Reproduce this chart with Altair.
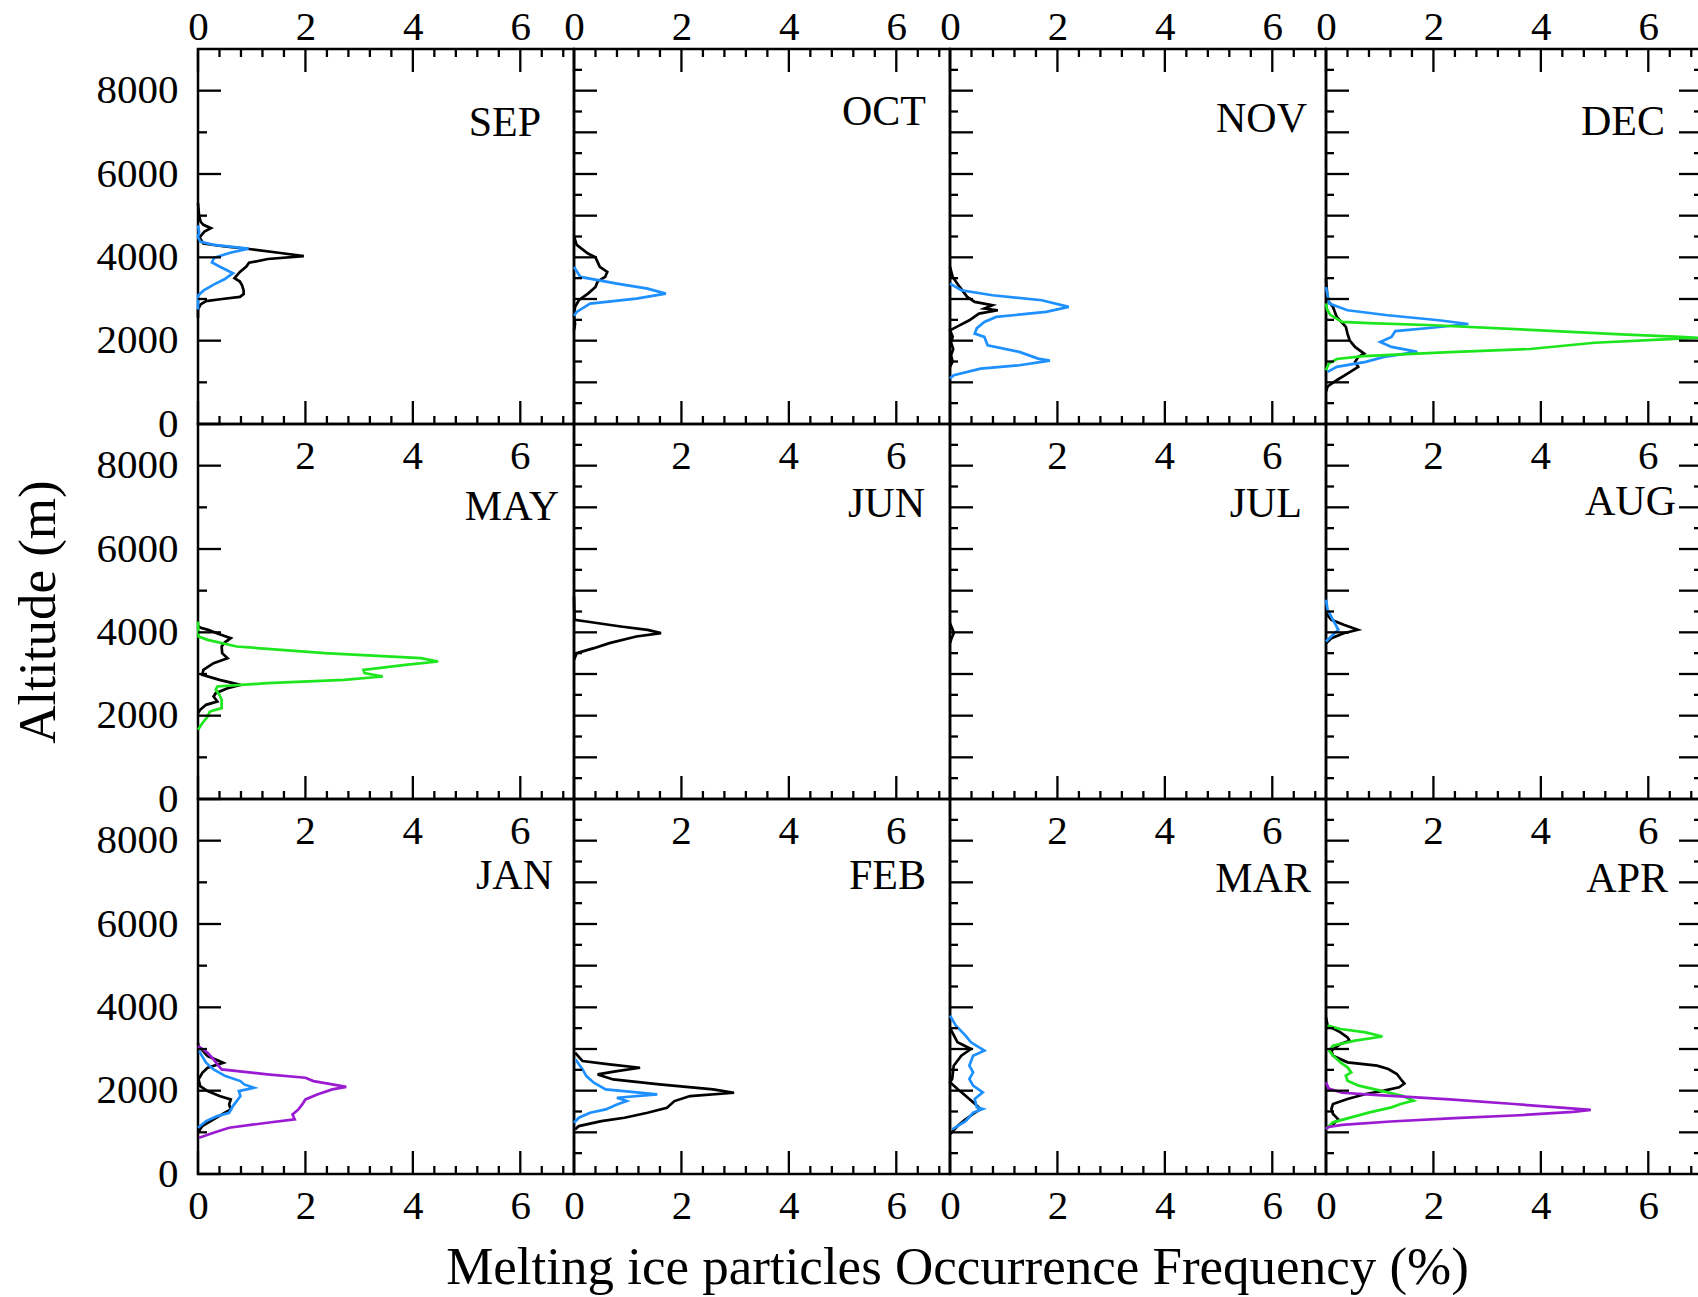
import altair as alt
import pandas as pd

FONT = "Liberation Serif"

# ---------------- data (frequency %, altitude m) ----------------
SEP_BLACK = [(0.0, 5300), (0.02, 5000), (0.05, 4850), (0.1, 4780), (0.24, 4700), (0.12, 4620),
             (0.03, 4480), (0.1, 4330), (0.5, 4260), (0.95, 4200), (1.5, 4110), (1.97, 4030),
             (1.3, 3960), (0.95, 3870), (0.9, 3780), (0.78, 3650), (0.72, 3560), (0.68, 3500),
             (0.78, 3420), (0.82, 3330), (0.85, 3200), (0.85, 3120), (0.78, 3050), (0.45, 3000),
             (0.15, 2950), (0.05, 2870), (0.0, 2750), (0.0, 2550)]
SEP_BLUE = [(0.0, 4770), (0.02, 4600), (0.0, 4480), (0.05, 4370), (0.3, 4300), (0.94, 4210),
            (0.6, 4110), (0.3, 3990), (0.26, 3880), (0.4, 3780), (0.65, 3620), (0.5, 3480),
            (0.3, 3350), (0.1, 3200), (0.0, 3080), (0.0, 2750)]

OCT_BLACK = [(0.0, 4500), (0.05, 4300), (0.26, 4090), (0.4, 4000), (0.48, 3770), (0.62, 3650),
             (0.58, 3530), (0.44, 3420), (0.4, 3290), (0.26, 3130), (0.09, 2970), (0.02, 2810),
             (0.0, 2600), (0.02, 2400), (0.0, 2250)]
OCT_BLUE = [(0.0, 3770), (0.12, 3530), (0.8, 3370), (1.37, 3250), (1.71, 3130), (1.16, 3010),
            (0.3, 2890), (0.05, 2690), (0.0, 2600)]

NOV_BLACK = [(0.0, 3770), (0.05, 3530), (0.18, 3290), (0.32, 3050), (0.46, 2930), (0.79, 2850),
             (0.64, 2770), (0.89, 2730), (0.54, 2650), (0.36, 2490), (0.15, 2350), (0.0, 2250),
             (0.05, 2100), (0.02, 1950), (0.06, 1800), (0.02, 1650), (0.05, 1500), (0.0, 1370)]
NOV_BLUE = [(0.0, 3370), (0.21, 3210), (0.79, 3090), (1.71, 2970), (2.21, 2810), (1.79, 2690),
            (0.86, 2570), (0.64, 2450), (0.5, 2300), (0.46, 2170), (0.64, 2090), (0.7, 1890),
            (1.29, 1730), (1.64, 1570), (1.86, 1520), (1.29, 1410), (0.57, 1330), (0.07, 1170),
            (0.0, 1090)]

DEC_BLACK = [(0.0, 3490), (0.03, 2970), (0.13, 2810), (0.2, 2570), (0.37, 2330), (0.4, 2170),
             (0.44, 2010), (0.54, 1850), (0.71, 1690), (0.6, 1610), (0.54, 1490), (0.6, 1370),
             (0.4, 1210), (0.2, 1050), (0.03, 900), (0.0, 775)]
DEC_BLUE = [(0.0, 3290), (0.06, 2890), (0.4, 2730), (1.15, 2610), (2.1, 2490), (2.65, 2400),
            (1.97, 2310), (1.29, 2230), (1.22, 2090), (1.01, 1970), (1.22, 1850), (1.7, 1730),
            (1.08, 1610), (0.74, 1490), (0.2, 1370), (0.03, 1250)]
DEC_GREEN = [(0.0, 2890), (0.02, 2750), (0.08, 2620), (0.3, 2450), (0.8, 2420), (2.0, 2370),
             (3.8, 2260), (5.5, 2150), (6.6, 2090), (6.93, 2070), (6.3, 2030), (5.0, 1950),
             (3.8, 1800), (2.2, 1720), (0.7, 1630), (0.2, 1560), (0.05, 1450), (0.0, 1290)]

MAY_BLACK = [(0.0, 4150), (0.05, 4110), (0.19, 4060), (0.35, 3980), (0.61, 3860), (0.5, 3760),
             (0.44, 3660), (0.45, 3500), (0.55, 3380), (0.29, 3260), (0.1, 3100), (0.08, 2980),
             (0.4, 2860), (0.79, 2740), (0.55, 2660), (0.33, 2540), (0.29, 2460), (0.36, 2340),
             (0.15, 2260), (0.04, 2140), (0.0, 2060)]
MAY_GREEN = [(0.0, 4260), (0.01, 3900), (0.18, 3820), (0.72, 3660), (2.36, 3500), (4.15, 3380),
             (4.47, 3300), (3.86, 3220), (3.08, 3100), (3.1, 3020), (3.44, 2940), (2.72, 2860),
             (1.29, 2780), (0.36, 2700), (0.33, 2620), (0.4, 2500), (0.44, 2380), (0.44, 2180),
             (0.22, 2100), (0.18, 1980), (0.08, 1820), (0.0, 1660)]

JUN_BLACK = [(0.0, 4860), (0.01, 4300), (0.23, 4260), (0.87, 4140), (1.37, 4060), (1.62, 3980),
             (1.16, 3900), (0.66, 3740), (0.37, 3620), (0.05, 3500), (0.0, 3340)]

JUL_BLACK = [(0.0, 4220), (0.05, 4060), (0.07, 3980), (0.03, 3860), (0.0, 3740)]

AUG_BLACK = [(0.0, 4460), (0.1, 4300), (0.33, 4180), (0.59, 4060), (0.33, 3980), (0.1, 3860),
             (0.0, 3740)]
AUG_BLUE = [(0.0, 4780), (0.03, 4540), (0.13, 4300), (0.23, 4060), (0.13, 3940), (0.0, 3780)]

JAN_BLACK = [(0.0, 3150), (0.01, 3070), (0.18, 2830), (0.47, 2670), (0.18, 2550), (0.08, 2430),
             (0.01, 2270), (0.04, 2110), (0.18, 1990), (0.4, 1870), (0.61, 1790), (0.58, 1670),
             (0.61, 1550), (0.5, 1470), (0.29, 1310), (0.08, 1150), (0.0, 990)]
JAN_BLUE = [(0.02, 2950), (0.15, 2670), (0.29, 2510), (0.51, 2350), (0.79, 2230), (0.86, 2150),
            (1.04, 2070), (0.76, 1990), (0.79, 1870), (0.72, 1750), (0.65, 1630), (0.58, 1470),
            (0.36, 1390), (0.15, 1270), (0.0, 1110)]
JAN_PURPLE = [(0.0, 3070), (0.18, 2910), (0.29, 2750), (0.36, 2630), (0.44, 2510), (1.29, 2390),
              (2.0, 2310), (2.15, 2230), (2.5, 2150), (2.76, 2090), (2.5, 2030), (2.22, 1910),
              (2.0, 1790), (1.94, 1670), (1.87, 1550), (1.76, 1430), (1.8, 1310), (1.29, 1230),
              (0.58, 1110), (0.29, 990), (0.02, 870)]

FEB_BLACK = [(0.02, 2910), (0.16, 2710), (0.66, 2630), (1.23, 2550), (0.8, 2470), (0.44, 2390),
             (0.73, 2270), (1.59, 2150), (2.59, 2030), (2.98, 1950), (2.16, 1870), (1.87, 1750),
             (1.73, 1590), (1.37, 1470), (0.94, 1350), (0.51, 1270), (0.09, 1150), (0.02, 1070)]
FEB_BLUE = [(0.03, 2750), (0.16, 2510), (0.23, 2350), (0.37, 2190), (0.59, 2030), (1.55, 1910),
            (0.8, 1830), (0.98, 1750), (0.8, 1670), (0.59, 1550), (0.3, 1470), (0.09, 1350),
            (0.0, 1230)]

MAR_BLACK = [(0.01, 3480), (0.14, 3160), (0.39, 3000), (0.21, 2840), (0.07, 2600), (0.04, 2280),
             (0.0, 2200), (0.14, 2040), (0.29, 1880), (0.43, 1720), (0.57, 1560), (0.43, 1440),
             (0.29, 1310), (0.14, 1150), (0.0, 950)]
MAR_BLUE = [(0.0, 3800), (0.11, 3560), (0.29, 3320), (0.39, 3160), (0.64, 2960), (0.43, 2840),
            (0.36, 2600), (0.43, 2440), (0.36, 2280), (0.43, 2120), (0.61, 1960), (0.46, 1800),
            (0.5, 1600), (0.61, 1560), (0.43, 1470), (0.29, 1270), (0.04, 1070)]

APR_BLACK = [(0.0, 3760), (0.03, 3560), (0.27, 3400), (0.4, 3280), (0.44, 3200), (0.27, 3120),
             (0.1, 2960), (0.13, 2840), (0.4, 2680), (0.95, 2600), (1.16, 2520), (1.32, 2400),
             (1.39, 2280), (1.46, 2170), (1.36, 2080), (1.08, 2000), (0.74, 1920), (0.4, 1800),
             (0.13, 1680), (0.1, 1560), (0.13, 1440), (0.23, 1310), (0.13, 1190), (0.0, 1110)]
APR_GREEN = [(0.03, 3560), (0.27, 3480), (0.74, 3400), (1.05, 3300), (0.54, 3200), (0.13, 3080),
             (0.06, 2960), (0.13, 2840), (0.27, 2680), (0.4, 2560), (0.47, 2440), (0.37, 2360),
             (0.4, 2240), (0.61, 2120), (1.01, 2000), (1.42, 1880), (1.63, 1760), (1.39, 1680),
             (1.22, 1600), (0.81, 1480), (0.47, 1360), (0.13, 1240), (0.0, 1080)]
APR_PURPLE = [(0.0, 2200), (0.05, 2050), (0.3, 1950), (0.9, 1900), (2.3, 1790), (3.5, 1680),
              (4.5, 1580), (4.93, 1540), (4.6, 1490), (3.6, 1410), (2.4, 1340), (1.2, 1260),
              (0.3, 1180), (0.05, 1130), (0.0, 1080)]

MONTHS = ["SEP", "OCT", "NOV", "DEC", "MAY", "JUN", "JUL", "AUG", "JAN", "FEB", "MAR", "APR"]
CURVES = {
    "SEP": {"black": SEP_BLACK, "blue": SEP_BLUE},
    "OCT": {"black": OCT_BLACK, "blue": OCT_BLUE},
    "NOV": {"black": NOV_BLACK, "blue": NOV_BLUE},
    "DEC": {"black": DEC_BLACK, "blue": DEC_BLUE, "green": DEC_GREEN},
    "MAY": {"black": MAY_BLACK, "green": MAY_GREEN},
    "JUN": {"black": JUN_BLACK},
    "JUL": {"black": JUL_BLACK},
    "AUG": {"black": AUG_BLACK, "blue": AUG_BLUE},
    "JAN": {"black": JAN_BLACK, "blue": JAN_BLUE, "purple": JAN_PURPLE},
    "FEB": {"black": FEB_BLACK, "blue": FEB_BLUE},
    "MAR": {"black": MAR_BLACK, "blue": MAR_BLUE},
    "APR": {"black": APR_BLACK, "green": APR_GREEN, "purple": APR_PURPLE},
}
SERIES = ["black", "blue", "green", "purple"]
SERIES_COLORS = ["#000000", "#1E90FF", "#1EE61E", "#9B1BD3"]

X_LABELS_FULL = [0, 2, 4, 6]
X_LABELS_INNER = [2, 4, 6]
X_MAJOR = [0, 2, 4, 6]
X_MINOR = [0.4, 0.8, 1.2, 1.6, 2.4, 2.8, 3.2, 3.6, 4.4, 4.8, 5.2, 5.6, 6.4, 6.8]
Y_LABELS = [0, 2000, 4000, 6000, 8000]
Y1_MINOR = [1000, 3000, 5000, 7000]
Y_MAJOR = [1000, 2000, 3000, 4000, 5000, 6000, 7000, 8000]
Y_MINOR = [500, 1500, 2500, 3500, 4500, 5500, 6500, 7500, 8500]

# ---------------- layout / style ----------------
W, H = 376, 375
MAJ, MIN = 23, 8
XS = alt.Scale(domain=[0, 7], nice=False, zero=False)
YS = alt.Scale(domain=[0, 9000], nice=False, zero=False)
LABEL_POS = {
    "SEP": (343, 74), "OCT": (352, 63), "NOV": (357, 70), "DEC": (339, 73),
    "MAY": (361, 83), "JUN": (351, 80), "JUL": (352, 80), "AUG": (350, 78),
    "JAN": (355, 77), "FEB": (352, 77), "MAR": (361, 80), "APR": (342, 80),
}


def xrules(vals, y1, y2, xaxis):
    return alt.Chart(pd.DataFrame({"v": vals})).mark_rule(color="black", strokeWidth=2.3).encode(
        x=alt.X("v:Q", scale=XS, axis=xaxis), y=alt.value(y1), y2=alt.value(y2))


def yrules(vals, x1, x2, yaxis):
    return alt.Chart(pd.DataFrame({"v": vals})).mark_rule(color="black", strokeWidth=2.3).encode(
        y=alt.Y("v:Q", scale=YS, axis=yaxis), x=alt.value(x1), x2=alt.value(x2))


def panel(i, month):
    row, col = divmod(i, 4)
    recs = []
    for s, pts in CURVES[month].items():
        for k, (f, a) in enumerate(pts):
            recs.append({"freq": f, "alt": a, "series": s, "k": k})
    df = pd.DataFrame(recs)

    common_lab = dict(ticks=False, tickSize=0, domain=False, grid=False, labelFlush=False,
                      labelFont=FONT, labelFontSize=41, labelColor="black", format="d",
                      titleFont=FONT, titleFontSize=53, titleFontWeight="normal", titleColor="black")
    if row == 0:
        xaxis = alt.Axis(orient="top", values=X_LABELS_FULL, labelPadding=21.5,
                         labelBaseline="middle", title=None, **common_lab)
    elif row == 2:
        if col == 1:
            xaxis = alt.Axis(orient="bottom", values=X_LABELS_FULL, labelPadding=32.5,
                             labelBaseline="middle",
                             title="Melting ice particles Occurrence Frequency (%)",
                             titleX=383, titleY=93, titleAlign="center", titleBaseline="middle",
                             **common_lab)
        else:
            xaxis = alt.Axis(orient="bottom", values=X_LABELS_FULL, labelPadding=32.5,
                             labelBaseline="middle", title=None, **common_lab)
    else:
        xaxis = None

    if col == 0:
        if row == 1:
            yaxis = alt.Axis(orient="left", values=Y_LABELS, labelPadding=20, title="Altitude (m)",
                             titleX=-160, titleY=187.5, titleAngle=270, titleAlign="center",
                             titleBaseline="middle", **common_lab)
        else:
            yaxis = alt.Axis(orient="left", values=Y_LABELS, labelPadding=20, title=None,
                             **common_lab)
    else:
        yaxis = None

    lines = alt.Chart(df).mark_line(strokeWidth=2.7).encode(
        x=alt.X("freq:Q", scale=XS, axis=xaxis),
        y=alt.Y("alt:Q", scale=YS, axis=yaxis),
        color=alt.Color("series:N", scale=alt.Scale(domain=SERIES, range=SERIES_COLORS), legend=None),
        order=alt.Order("k:Q"),
    )

    layers = [lines]
    # bottom ticks (inward)
    layers += [xrules(X_MAJOR, H, H - MAJ, xaxis), xrules(X_MINOR, H, H - MIN, xaxis)]
    if row == 0:
        layers += [xrules(X_MAJOR, 0, MAJ, xaxis), xrules(X_MINOR, 0, MIN, xaxis)]
    if col == 0:
        layers += [yrules(Y_LABELS, 0, MAJ, yaxis), yrules(Y1_MINOR, 0, MIN + 1, yaxis)]
    else:
        layers += [yrules(Y_MAJOR, 0, MAJ, yaxis), yrules(Y_MINOR, 0, MIN, yaxis)]
    if col == 3:
        layers += [yrules(Y_MAJOR, W - MAJ, W, yaxis), yrules(Y_MINOR, W - MIN, W, yaxis)]
    if row > 0:
        layers.append(
            alt.Chart(pd.DataFrame({"v": X_LABELS_INNER})).mark_text(
                font=FONT, fontSize=41, baseline="middle", color="black").encode(
                x=alt.X("v:Q", scale=XS, axis=xaxis), y=alt.value(32.6), text=alt.Text("v:Q"))
        )
    mx, my = LABEL_POS[month]
    layers.append(
        alt.Chart(pd.DataFrame({"m": [month]})).mark_text(
            font=FONT, fontSize=42, align="right", baseline="middle", color="black").encode(
            x=alt.value(mx), y=alt.value(my), text="m:N")
    )
    return alt.layer(*layers).properties(width=W, height=H)


panels = [panel(i, m) for i, m in enumerate(MONTHS)]

chart = alt.concat(*panels, columns=4, spacing=0, bounds="flush").configure_view(
    stroke="black", strokeWidth=2.5
).properties(
    autosize=alt.AutoSizeParams(type="none"),
    padding={"left": 198, "top": 49, "right": 1500, "bottom": 1248},
    background="white",
)

chart.save("out.html", embed_options={"renderer": "svg", "actions": False})
